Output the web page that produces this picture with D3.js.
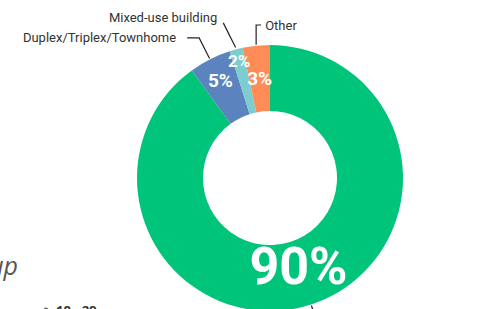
<!DOCTYPE html>
<html>
<head>
<meta charset="utf-8">
<script src="https://cdn.jsdelivr.net/npm/d3@7"></script>
<style>
  body { margin: 0; background: #fff; }
  svg { display: block; }
</style>
</head>
<body>
<div id="chart"></div>
<script>
var width = 485, height = 309;

// data
var categories = ["Single-family home", "Duplex/Triplex/Townhome", "Mixed-use building", "Other"];
var shares = [90, 5.1, 1.6, 3.3];
var pctLabels = ["90%", "5%", "2%", "3%"];
var colors = ["#00c47a", "#5b83bd", "#7dcdd0", "#ff8c57"];

var cx = 270, cy = 178, outerR = 133, innerR = 67;

var svg = d3.select("#chart").append("svg")
    .attr("width", width)
    .attr("height", height);

var g = svg.append("g")
    .attr("transform", "translate(" + cx + "," + cy + ")");

var pie = d3.pie().sort(null).value(function(d){ return d; });
var arcs = pie(shares);
var arc = d3.arc().innerRadius(innerR).outerRadius(outerR);

g.selectAll(".slice")
    .data(arcs)
    .enter().append("path")
    .attr("class", "slice")
    .attr("d", arc)
    .attr("fill", function(d, i){ return colors[i]; });

function mid(d) { return (d.startAngle + d.endAngle) / 2; }
function pt(a, r) { return [Math.sin(a) * r, -Math.cos(a) * r]; }

// percentage labels inside the ring
var labelR = [92, 110, 121, 100];
var labelSize = [52, 19, 17, 19];
g.selectAll(".pct")
    .data(arcs)
    .enter().append("text")
    .attr("class", "pct")
    .attr("x", function(d, i){ return pt(mid(d), labelR[i])[0]; })
    .attr("y", function(d, i){ return pt(mid(d), labelR[i])[1]; })
    .attr("dy", "0.36em")
    .attr("text-anchor", "middle")
    .style("font-family", "Roboto, sans-serif")
    .style("font-weight", "700")
    .style("font-size", function(d, i){ return labelSize[i] + "px"; })
    .style("fill", "#fff")
    .text(function(d, i){ return pctLabels[i]; });

// leader lines + category names
var lineColor = "#222";
function leader(points) {
    g.append("path")
        .attr("d", d3.line()(points))
        .attr("fill", "none")
        .attr("stroke", lineColor)
        .attr("stroke-width", 1.2);
}
function name(x, y, anchor, txt) {
    g.append("text")
        .attr("x", x).attr("y", y)
        .attr("text-anchor", anchor)
        .style("font-family", "Roboto, sans-serif")
        .style("font-size", "13px")
        .style("fill", "#333")
        .text(txt);
}

// single family: leader heads down out of view (its name sits below the frame)
var a0 = mid(arcs[0]);
leader([pt(a0, outerR + 1), pt(a0, outerR + 30)]);

// duplex
var a1 = mid(arcs[1]);
var e1 = pt(a1, 157);
leader([pt(a1, outerR + 1), e1, [e1[0] - 12, e1[1]]]);
name(e1[0] - 23, e1[1] + 4.5, "end", categories[1]);

// mixed-use
var a2 = mid(arcs[2]);
var e2 = pt(a2 - 0.035, 162);
leader([pt(a2, outerR + 2), e2]);
name(e2[0] - 6, e2[1] - 1, "end", categories[2]);

// other
var a3 = mid(arcs[3]);
var s3 = pt(a3, outerR + 1);
var e3 = [s3[0], 25 - cy];
leader([s3, e3, [e3[0] + 5, e3[1]]]);
name(e3[0] + 9, e3[1] + 5, "start", categories[3]);

// neighbouring panel, cut off at the left and bottom edges
svg.append("text")
    .attr("x", 18).attr("y", 275)
    .attr("text-anchor", "end")
    .style("font-family", "'Open Sans', sans-serif")
    .style("font-style", "italic")
    .style("font-size", "25px")
    .style("fill", "#555")
    .text("Age Group");

svg.append("circle")
    .attr("cx", 46).attr("cy", 310)
    .attr("r", 2.5)
    .attr("fill", "#666");

svg.append("text")
    .attr("x", 56).attr("y", 315)
    .style("font-family", "'Open Sans', sans-serif")
    .style("font-weight", "700")
    .style("font-size", "13px")
    .style("fill", "#333")
    .text("18 - 29");
</script>
</body>
</html>
